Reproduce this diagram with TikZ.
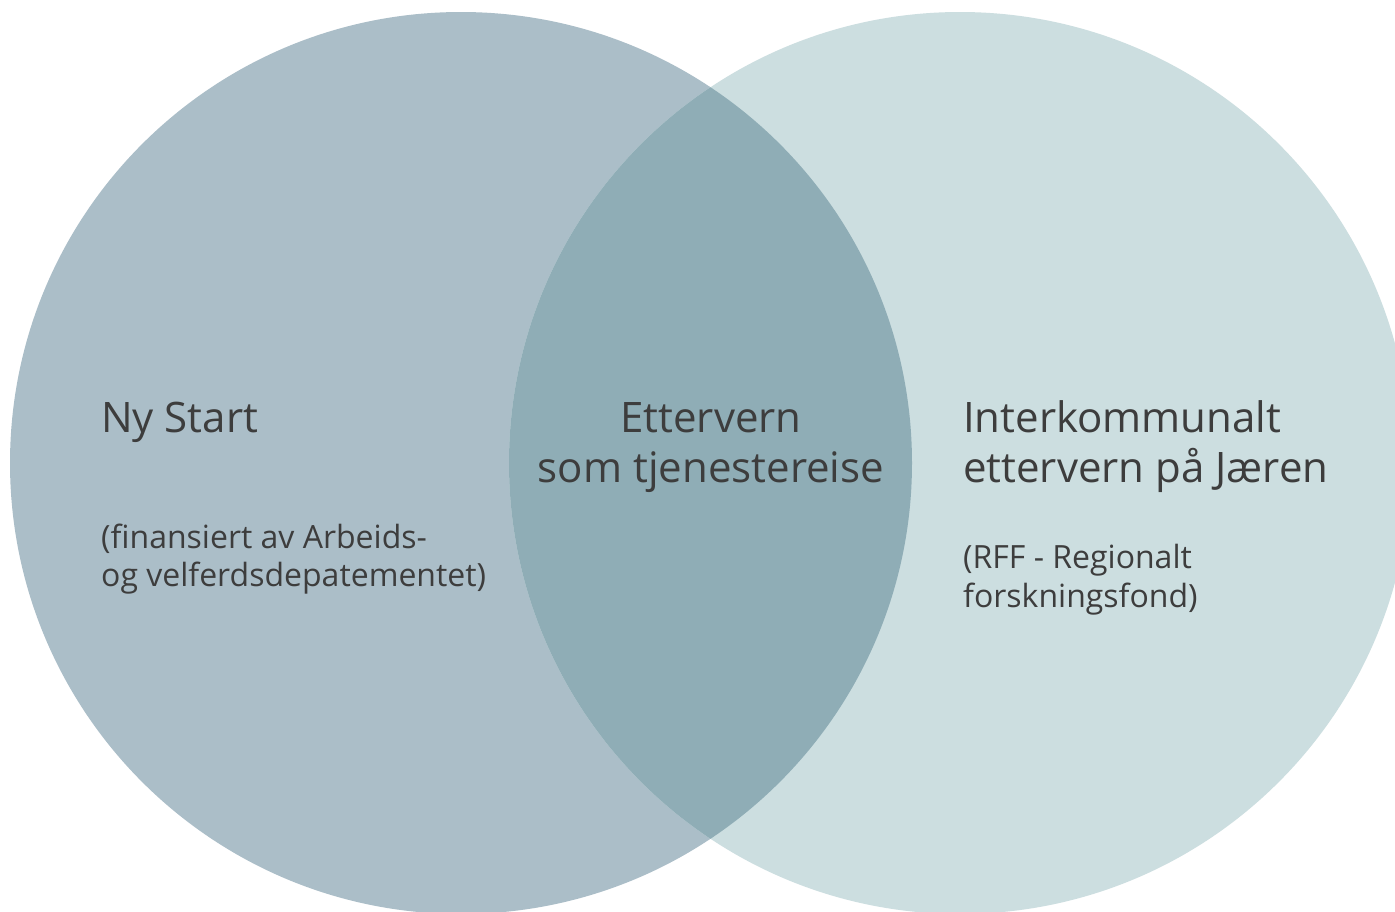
\documentclass[tikz,border=0pt]{standalone}
\usepackage{fontspec}
\setmainfont{Open Sans}
\definecolor{leftc}{HTML}{ABBEC8}
\definecolor{rightc}{HTML}{CCDEE0}
\definecolor{midc}{HTML}{8FADB6}
\definecolor{txt}{HTML}{3D3D3D}
\begin{document}
\begin{tikzpicture}[x=1pt,y=-1pt,
  big/.style={inner sep=0pt,text=txt,font=\fontsize{42}{50}\selectfont},
  small/.style={inner sep=0pt,text=txt,font=\fontsize{32}{38}\selectfont}]
\useasboundingbox (0,0) rectangle (1395,911);
\clip (0,0) rectangle (1395,911);
\fill[white] (0,0) rectangle (1395,911);
\fill[leftc] (461,463) circle (451);
\fill[rightc] (960,463) circle (451);
\begin{scope}
\clip (461,463) circle (451);
\fill[midc] (960,463) circle (451);
\end{scope}
\node[big,anchor=base west] (ny) at (101,432) {Ny Start};
\node[small,anchor=base west] (ny1) at (101,548) {(finansiert av Arbeids-};
\node[small,anchor=base west] (ny2) at (101,586) {og velferdsdepatementet)};
\node[big,anchor=base] (et1) at (711,432) {Ettervern};
\node[big,anchor=base] (et2) at (711,482) {som tjenestereise};
\node[big,anchor=base west] (ik1) at (963,432) {Interkommunalt};
\node[big,anchor=base west] (ik2) at (963,482) {ettervern på Jæren};
\node[small,anchor=base west] (rf1) at (963,568) {(RFF - Regionalt};
\node[small,anchor=base west] (rf2) at (963,607) {forskningsfond)};
\end{tikzpicture}
\end{document}
